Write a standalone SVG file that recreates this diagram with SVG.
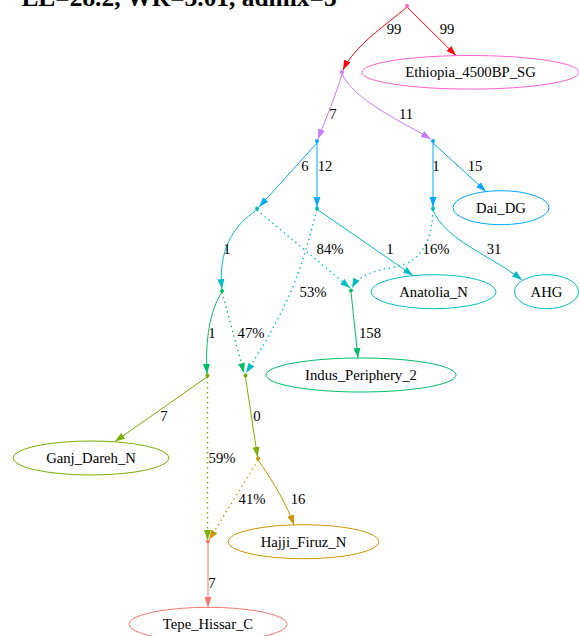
<svg xmlns="http://www.w3.org/2000/svg" width="579" height="636" viewBox="0 0 579 636">
  <style>
    .lbl { font-family: "Liberation Serif", "Times New Roman", serif; font-size: 14.7px; fill: #000; text-anchor: middle; }
    .title { font-family: "Liberation Serif", "Times New Roman", serif; font-size: 25.4px; font-weight: bold; fill: #000; text-anchor: middle; }
    .e { fill: none; stroke-width: 1; }
    .dot { stroke-width: 1.4; stroke-dasharray: 1.4 3.6; }
    .node { fill: none; stroke-width: 1; }
    .red { stroke: #FF0000; } .pur { stroke: #C77CFF; } .blu { stroke: #00A9FF; } .cya { stroke: #00BFC4; }
    .grn { stroke: #00BE67; } .oli { stroke: #7CAE00; } .gld { stroke: #CD9600; } .sal { stroke: #F8766D; } .pnk { stroke: #FF61CC; }
  </style>
  <defs>
    <marker id="a-red" viewBox="0 0 10 7" refX="10" refY="3.5" markerWidth="10" markerHeight="7.2" markerUnits="userSpaceOnUse" orient="auto"><path d="M0,0 L10,3.5 L0,7 z" fill="#FF0000"/></marker>
    <marker id="a-pur" viewBox="0 0 10 7" refX="10" refY="3.5" markerWidth="10" markerHeight="7.2" markerUnits="userSpaceOnUse" orient="auto"><path d="M0,0 L10,3.5 L0,7 z" fill="#C77CFF"/></marker>
    <marker id="a-blu" viewBox="0 0 10 7" refX="10" refY="3.5" markerWidth="10" markerHeight="7.2" markerUnits="userSpaceOnUse" orient="auto"><path d="M0,0 L10,3.5 L0,7 z" fill="#00A9FF"/></marker>
    <marker id="a-cya" viewBox="0 0 10 7" refX="10" refY="3.5" markerWidth="10" markerHeight="7.2" markerUnits="userSpaceOnUse" orient="auto"><path d="M0,0 L10,3.5 L0,7 z" fill="#00BFC4"/></marker>
    <marker id="a-grn" viewBox="0 0 10 7" refX="10" refY="3.5" markerWidth="10" markerHeight="7.2" markerUnits="userSpaceOnUse" orient="auto"><path d="M0,0 L10,3.5 L0,7 z" fill="#00BE67"/></marker>
    <marker id="a-oli" viewBox="0 0 10 7" refX="10" refY="3.5" markerWidth="10" markerHeight="7.2" markerUnits="userSpaceOnUse" orient="auto"><path d="M0,0 L10,3.5 L0,7 z" fill="#7CAE00"/></marker>
    <marker id="a-gld" viewBox="0 0 10 7" refX="10" refY="3.5" markerWidth="10" markerHeight="7.2" markerUnits="userSpaceOnUse" orient="auto"><path d="M0,0 L10,3.5 L0,7 z" fill="#CD9600"/></marker>
    <marker id="a-sal" viewBox="0 0 10 7" refX="10" refY="3.5" markerWidth="10" markerHeight="7.2" markerUnits="userSpaceOnUse" orient="auto"><path d="M0,0 L10,3.5 L0,7 z" fill="#F8766D"/></marker>
  </defs>

  <rect width="579" height="636" fill="#fff"/>
  <text class="title" x="179" y="6">LL=28.2, WR=3.01, admix=3</text>

  <g id="connectors">
    <path class="e red" d="M407,7 C385,26 355,45 343,70" marker-end="url(#a-red)"/>
    <text class="lbl" x="394" y="34">99</text>
    <path class="e red" d="M407,7 L456,55.5" marker-end="url(#a-red)"/>
    <text class="lbl" x="447" y="34">99</text>

    <path class="e pur" d="M342,74 C336,95 326,118 318,139" marker-end="url(#a-pur)"/>
    <text class="lbl" x="333" y="119">7</text>
    <path class="e pur" d="M342,74 C355,100 395,118 431,139" marker-end="url(#a-pur)"/>
    <text class="lbl" x="406" y="119">11</text>

    <path class="e blu" d="M317,143 L259,207" marker-end="url(#a-blu)"/>
    <text class="lbl" x="305" y="171">6</text>
    <path class="e blu" d="M317,143 L317,207" marker-end="url(#a-blu)"/>
    <text class="lbl" x="325" y="171">12</text>
    <path class="e blu" d="M433,143 L433,207" marker-end="url(#a-blu)"/>
    <text class="lbl" x="436" y="171">1</text>
    <path class="e blu" d="M433,143 L486,191.5" marker-end="url(#a-blu)"/>
    <text class="lbl" x="475" y="171">15</text>

    <path class="e cya" d="M257,210 C232,226 218,252 222,289" marker-end="url(#a-cya)"/>
    <text class="lbl" x="227" y="254">1</text>
    <path class="e cya dot" d="M257,210 L350,288" marker-end="url(#a-cya)"/>
    <text class="lbl" x="330" y="254">84%</text>
    <path class="e cya" d="M318,210 L413,275.5" marker-end="url(#a-cya)"/>
    <text class="lbl" x="390" y="254">1</text>
    <path class="e cya dot" d="M317,210 C305,250 300,290 246,373" marker-end="url(#a-cya)"/>
    <text class="lbl" x="313" y="297">53%</text>
    <path class="e cya" d="M433,210 C445,240 490,255 522,280" marker-end="url(#a-cya)"/>
    <text class="lbl" x="494" y="254">31</text>
    <path class="e cya dot" d="M433,210 C432,240 422,262 395,267 C372,271 358,276 352,288" marker-end="url(#a-cya)"/>
    <text class="lbl" x="436" y="254">16%</text>

    <path class="e grn" d="M351,292 L358,358" marker-end="url(#a-grn)"/>
    <text class="lbl" x="370" y="338">158</text>
    <path class="e grn" d="M222,292 C210,310 205,340 207,374" marker-end="url(#a-grn)"/>
    <text class="lbl" x="212" y="338">1</text>
    <path class="e grn dot" d="M222,292 L244,373" marker-end="url(#a-grn)"/>
    <text class="lbl" x="251" y="338">47%</text>

    <path class="e oli" d="M207,377 L115,441.5" marker-end="url(#a-oli)"/>
    <text class="lbl" x="164" y="421">7</text>
    <path class="e oli dot" d="M207.5,377 L207.5,540" marker-end="url(#a-oli)"/>
    <text class="lbl" x="222" y="463">59%</text>
    <path class="e oli" d="M245.5,377 L257.5,457" marker-end="url(#a-oli)"/>
    <text class="lbl" x="257" y="421">0</text>

    <path class="e gld" d="M258,460 C270,477 285,500 294,525" marker-end="url(#a-gld)"/>
    <text class="lbl" x="298" y="504">16</text>
    <path class="e gld dot" d="M258,460 L209,540" marker-end="url(#a-gld)"/>
    <text class="lbl" x="252" y="504">41%</text>

    <path class="e sal" d="M208,543 L208,607" marker-end="url(#a-sal)"/>
    <text class="lbl" x="212" y="588">7</text>
  </g>

  <!-- junction points -->
  <g id="n-root"><circle cx="407" cy="6" r="2" fill="#FF61CC"/></g>
  <g id="n-a"><circle cx="342" cy="72" r="2" fill="#C77CFF"/></g>
  <g id="n-b"><circle cx="317" cy="141" r="2" fill="#00A9FF"/></g>
  <g id="n-c"><circle cx="433" cy="141" r="2" fill="#00A9FF"/></g>
  <g id="n-d"><circle cx="257" cy="208.5" r="2" fill="#00BFC4"/></g>
  <g id="n-e"><circle cx="317" cy="208.5" r="2" fill="#00BFC4"/></g>
  <g id="n-f"><circle cx="433" cy="208.5" r="2" fill="#00BFC4"/></g>
  <g id="n-g"><circle cx="351" cy="290.5" r="2" fill="#00BE67"/></g>
  <g id="n-h"><circle cx="222" cy="291" r="2" fill="#00BE67"/></g>
  <g id="n-i"><circle cx="207.5" cy="375.5" r="2" fill="#7CAE00"/></g>
  <g id="n-j"><circle cx="245.5" cy="375.5" r="2" fill="#7CAE00"/></g>
  <g id="n-k"><circle cx="258" cy="458.5" r="2" fill="#CD9600"/></g>
  <g id="n-l"><circle cx="208" cy="541.5" r="2" fill="#F8766D"/></g>

  <!-- populations -->
  <g id="n-ethiopia"><ellipse class="node pnk" cx="470.5" cy="72.3" rx="108.5" ry="16.8"/><text class="lbl" x="470.5" y="77.3">Ethiopia_4500BP_SG</text></g>
  <g id="n-dai"><ellipse class="node blu" cx="501" cy="207.7" rx="48" ry="17"/><text class="lbl" x="501" y="212.7">Dai_DG</text></g>
  <g id="n-anatolia"><ellipse class="node cya" cx="433.5" cy="291.7" rx="62.5" ry="17"/><text class="lbl" x="433.5" y="296.7">Anatolia_N</text></g>
  <g id="n-ahg"><ellipse class="node cya" cx="546.5" cy="291.7" rx="32" ry="17"/><text class="lbl" x="546.5" y="296.7">AHG</text></g>
  <g id="n-indus"><ellipse class="node grn" cx="361" cy="375" rx="95" ry="17"/><text class="lbl" x="361" y="380">Indus_Periphery_2</text></g>
  <g id="n-ganj"><ellipse class="node oli" cx="91" cy="458" rx="78" ry="17"/><text class="lbl" x="91" y="463">Ganj_Dareh_N</text></g>
  <g id="n-hajji"><ellipse class="node gld" cx="303.5" cy="541.7" rx="75.5" ry="17"/><text class="lbl" x="303.5" y="546.7">Hajji_Firuz_N</text></g>
  <g id="n-tepe"><ellipse class="node sal" cx="208" cy="624.3" rx="79" ry="17"/><text class="lbl" x="208" y="629.3">Tepe_Hissar_C</text></g>
</svg>
